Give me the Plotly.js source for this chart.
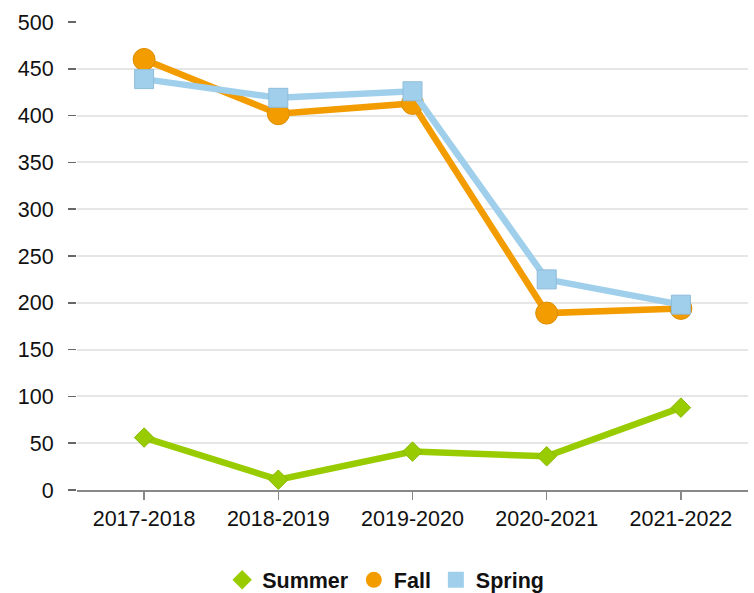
<!DOCTYPE html>
<html>
<head>
<meta charset="utf-8">
<script src="https://cdn.plot.ly/plotly-3.0.1.min.js"></script>
<style>html,body{margin:0;padding:0;background:#fff;}#chart{width:754px;height:593px;}</style>
</head>
<body>
<div id="chart"></div>
<script>
const years = ["2017-2018", "2018-2019", "2019-2020", "2020-2021", "2021-2022"];
const summer = [56, 11, 41, 36, 88];
const fall = [460, 402, 413, 189, 194];
const spring = [439, 419, 426, 225, 198];
const yTicks = [0, 50, 100, 150, 200, 250, 300, 350, 400, 450, 500];

const names = ["Summer", "Fall", "Spring"];
const series = [summer, fall, spring];
const colors = ["#99CC00", "#F39C00", "#A0CFEC"];
const edges = ["#8ab800", "#dc8e00", "#8fbcd8"];
const symbols = ["diamond", "circle", "square"];
const sizes = [15, 22, 19];
const legendSizes = [15, 17, 19];

const traces = [];
for (let i = 0; i < 3; i++) {
  traces.push({name: names[i], x: years, y: series[i], type: "scatter", mode: "lines+markers",
    showlegend: false,
    line: {color: colors[i], width: 6.5},
    marker: {symbol: symbols[i], size: sizes[i], color: colors[i], line: {color: edges[i], width: 1}}});
}
for (let i = 0; i < 3; i++) {
  traces.push({name: names[i], x: [null], y: [null], type: "scatter", mode: "markers",
    showlegend: true,
    marker: {symbol: symbols[i], size: legendSizes[i], color: colors[i]}});
}

const layout = {
  width: 754, height: 593,
  margin: {l: 77, r: 6, t: 22, b: 103, autoexpand: false},
  paper_bgcolor: "#ffffff", plot_bgcolor: "#ffffff",
  font: {family: "Liberation Sans, Arial, sans-serif", size: 21.5, color: "#111"},
  showlegend: true,
  legend: {orientation: "h", x: 0.46, xanchor: "center", y: -0.192, yanchor: "middle",
           font: {size: 21.5, color: "#111", weight: "bold"}, itemwidth: 30, tracegroupgap: 0},
  xaxis: {type: "category", range: [-0.5, 4.5], showgrid: false, zeroline: false,
          showline: true, linecolor: "#888", linewidth: 2,
          ticks: "outside", ticklen: 8, tickcolor: "#888", tickwidth: 1.5,
          tickfont: {size: 21.5}, fixedrange: true},
  yaxis: {range: [0, 500], tickvals: yTicks, showgrid: true, gridcolor: "#e6e6e6", gridwidth: 2,
          zeroline: false, showline: false, ticks: "outside", ticklen: 8, tickcolor: "#666",
          tickwidth: 1.5, ticklabelstandoff: 10, tickfont: {size: 21.5}, fixedrange: true}
};

Plotly.newPlot("chart", traces, layout, {displayModeBar: false, staticPlot: true});
</script>
</body>
</html>
